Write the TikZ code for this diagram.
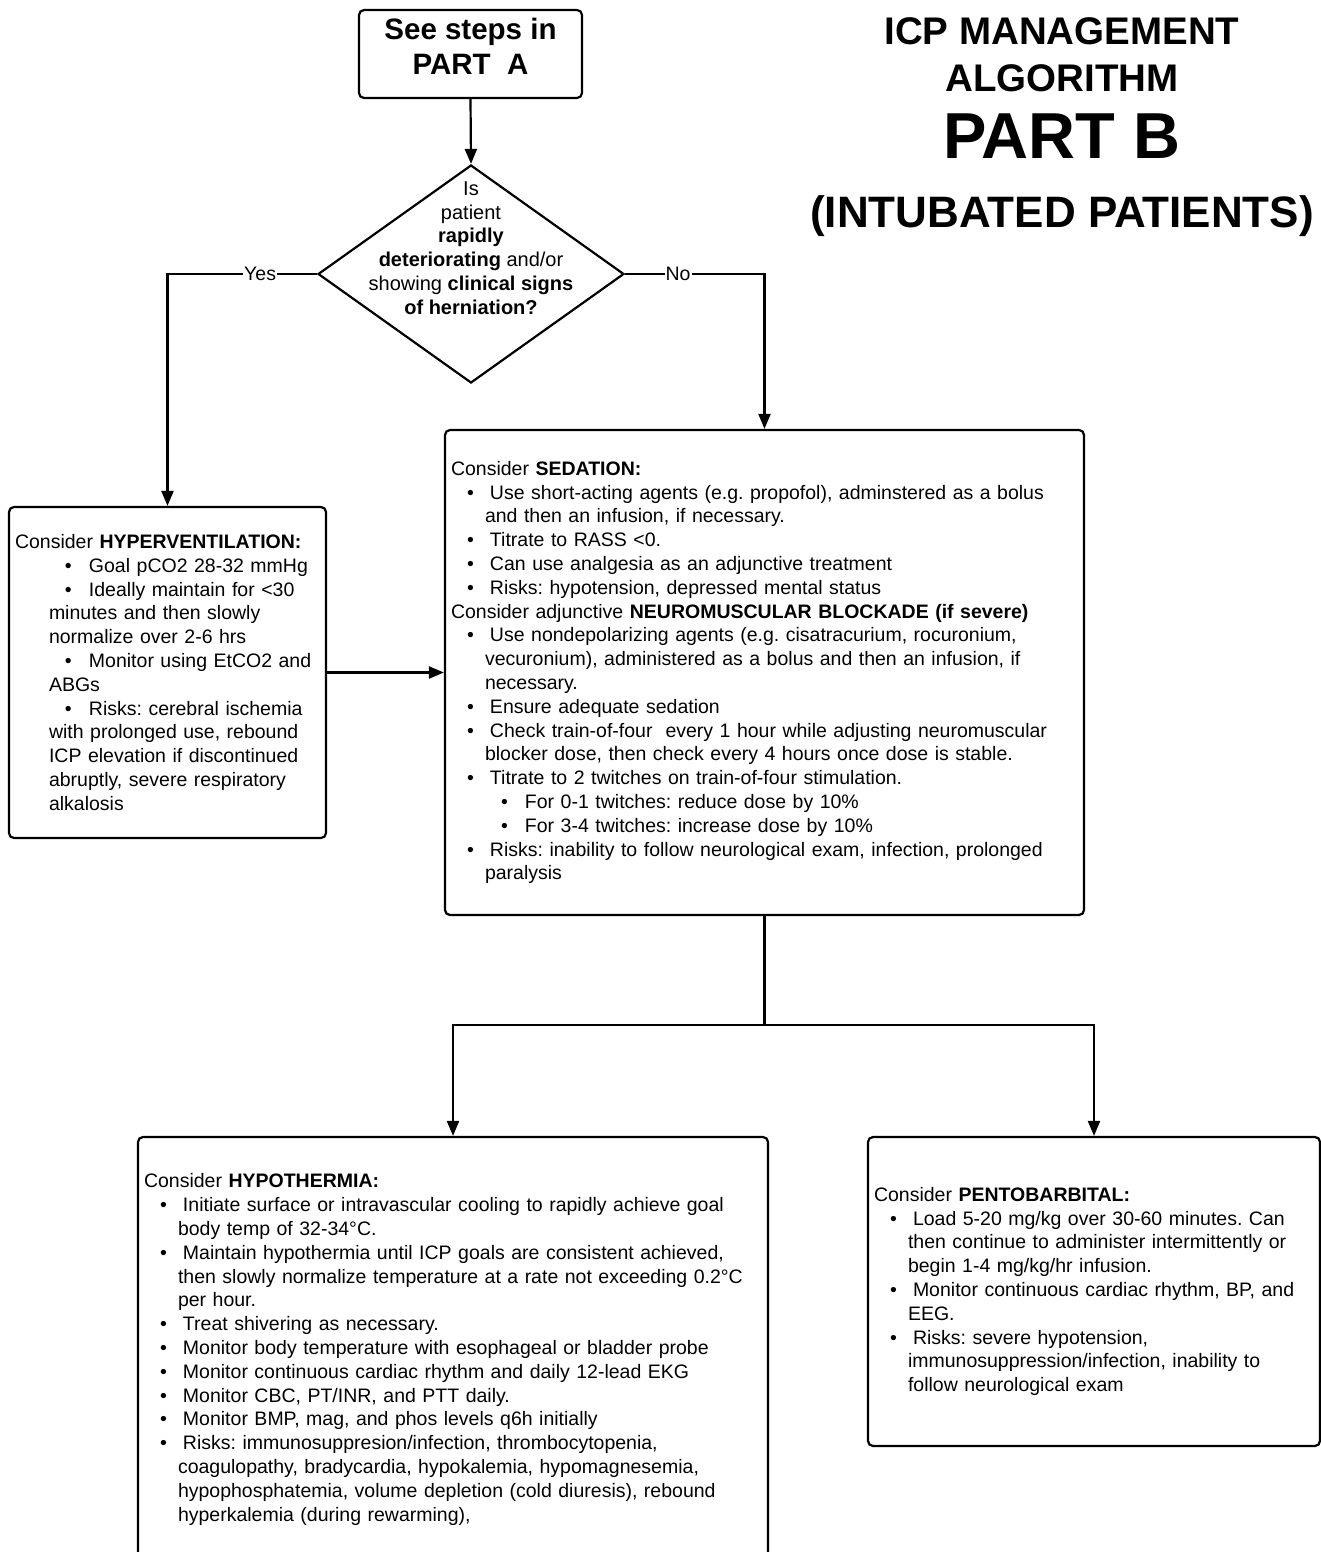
\documentclass[tikz,border=0pt]{standalone}
\usepackage{fontspec}
\setmainfont{Liberation Sans}
\usetikzlibrary{calc, positioning, arrows.meta, shapes.geometric}
\frenchspacing
\newcommand{\bodyfont}{\fontsize{19.5}{23.8}\selectfont}
\newcommand{\bu}{\hspace*{16pt}\makebox[23pt][l]{\textbullet}}
\newcommand{\sbu}{\hspace*{50pt}\makebox[24pt][l]{\textbullet}}
\newcommand{\cont}{\hspace*{34pt}}
\tikzset{
    care box/.style={draw, line width=2.2pt, rounded corners=5pt, align=left,
        inner xsep=6pt, inner ysep=0pt, font=\bodyfont},
    flow line/.style={line width=2.2pt},
    flow arrow/.style={flow line, -{Triangle[length=15pt,width=12pt]}},
    branch label/.style={fill=white, inner sep=1pt, font=\bodyfont},
    title line/.style={anchor=base, font=\bfseries},
}

\begin{document}
\begin{tikzpicture}[x=1pt, y=-1pt]
\useasboundingbox (0,0) rectangle (1321,1552);

\node[title line, font=\fontsize{38.5}{40}\selectfont\bfseries] (title a) at (1062,45) {ICP MANAGEMENT};
\node[title line, font=\fontsize{38.5}{40}\selectfont\bfseries] (title b) at (1062,92) {ALGORITHM};
\node[title line, font=\fontsize{65}{67}\selectfont\bfseries] (title c) at (1062,158) {PART B};
\node[title line, font=\fontsize{44}{46}\selectfont\bfseries] (title d) at (1062,227) {(INTUBATED PATIENTS)};

\node[draw, line width=2.2pt, rounded corners=5pt, minimum width=223pt, minimum height=88pt] (part a) at (470.5,54) {};
\node[align=center, font=\fontsize{29.5}{35}\selectfont\bfseries] (part a text) at (470.5,46) {See steps in\\PART\ \ A};

\node[draw, diamond, aspect=1.4, minimum width=306pt, minimum height=218pt, inner sep=0pt, line width=2.2pt] (herniation) at (471,274) {};
\node[align=center, font=\fontsize{20}{23.8}\selectfont] (herniation text) at (471,248)
    {Is\\patient\\\textbf{rapidly}\\\textbf{deteriorating} and/or\\showing \textbf{clinical signs}\\\textbf{of herniation?}};

\node[care box, text width=305pt, minimum height=331pt] (hyperventilation) at (167.5,672.5) {%
Consider \textbf{HYPERVENTILATION:}\\
\sbu Goal pCO2 28-32 mmHg\\
\sbu Ideally maintain for <30\\
\cont minutes and then slowly\\
\cont normalize over 2-6 hrs\\
\sbu Monitor using EtCO2 and\\
\cont ABGs\\
\sbu Risks: cerebral ischemia\\
\cont with prolonged use, rebound\\
\cont ICP elevation if discontinued\\
\cont abruptly, severe respiratory\\
\cont alkalosis};

\node[care box, text width=627pt, minimum height=485pt] (sedation) at (764.5,672.5) {%
Consider \textbf{SEDATION:}\\
\bu Use short-acting agents (e.g. propofol), adminstered as a bolus\\
\cont and then an infusion, if necessary.\\
\bu Titrate to RASS <0.\\
\bu Can use analgesia as an adjunctive treatment\\
\bu Risks: hypotension, depressed mental status\\
Consider adjunctive \textbf{NEUROMUSCULAR BLOCKADE (if severe)}\\
\bu Use nondepolarizing agents (e.g. cisatracurium, rocuronium,\\
\cont vecuronium), administered as a bolus and then an infusion, if\\
\cont necessary.\\
\bu Ensure adequate sedation\\
\bu Check train-of-four\ \ every 1 hour while adjusting neuromuscular\\
\cont blocker dose, then check every 4 hours once dose is stable.\\
\bu Titrate to 2 twitches on train-of-four stimulation.\\
\sbu For 0-1 twitches: reduce dose by 10\%\\
\sbu For 3-4 twitches: increase dose by 10\%\\
\bu Risks: inability to follow neurological exam, infection, prolonged\\
\cont paralysis};

\node[care box, text width=618pt, minimum height=425pt] (hypothermia) at (453,1349.5) {%
Consider \textbf{HYPOTHERMIA:}\\
\bu Initiate surface or intravascular cooling to rapidly achieve goal\\
\cont body temp of 32-34°C.\\
\bu Maintain hypothermia until ICP goals are consistent achieved,\\
\cont then slowly normalize temperature at a rate not exceeding 0.2°C\\
\cont per hour.\\
\bu Treat shivering as necessary.\\
\bu Monitor body temperature with esophageal or bladder probe\\
\bu Monitor continuous cardiac rhythm and daily 12-lead EKG\\
\bu Monitor CBC, PT/INR, and PTT daily.\\
\bu Monitor BMP, mag, and phos levels q6h initially\\
\bu Risks: immunosuppresion/infection, thrombocytopenia,\\
\cont coagulopathy, bradycardia, hypokalemia, hypomagnesemia,\\
\cont hypophosphatemia, volume depletion (cold diuresis), rebound\\
\cont hyperkalemia (during rewarming),};

\node[care box, text width=440pt, minimum height=309pt] (pentobarbital) at (1094,1291.5) {%
Consider \textbf{PENTOBARBITAL:}\\
\bu Load 5-20 mg/kg over 30-60 minutes. Can\\
\cont then continue to administer intermittently or\\
\cont begin 1-4 mg/kg/hr infusion.\\
\bu Monitor continuous cardiac rhythm, BP, and\\
\cont EEG.\\
\bu Risks: severe hypotension,\\
\cont immunosuppression/infection, inability to\\
\cont follow neurological exam};

\coordinate (split) at (764.5,1025);

\draw[flow arrow] (part a.south) -- (herniation.north);
\draw[flow arrow] (herniation.west) -| node[branch label, pos=0.19] {Yes} (hyperventilation.north);
\draw[flow arrow] (herniation.east) -| node[branch label, pos=0.19] {No} (sedation.north);
\draw[flow arrow] (hyperventilation.east) -- (sedation.west);
\draw[flow line] (sedation.south) -- (split);
\draw[flow arrow] (split) -| (hypothermia.north);
\draw[flow arrow] (split) -| (pentobarbital.north);

\end{tikzpicture}
\end{document}
